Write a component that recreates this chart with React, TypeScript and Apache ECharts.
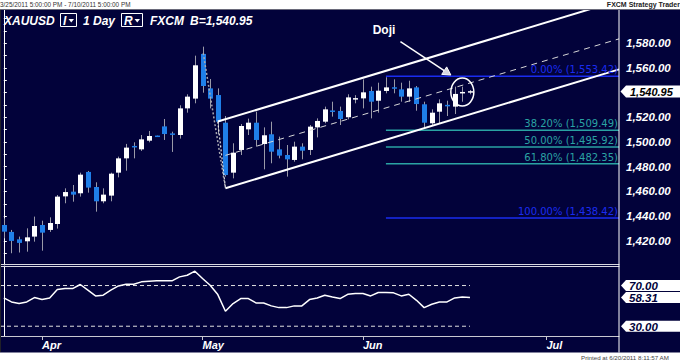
import React, { useEffect, useRef } from 'react';
import * as echarts from 'echarts';

// ---- price data (daily candles, Mar 25 .. Jun 20 2011) ----
const opens = [1432.8, 1427.2, 1421.2, 1419.6, 1423.4, 1432.8, 1428.8, 1433.6, 1456.0, 1459.8,
  1458.5, 1475.8, 1463.6, 1452.0, 1456.6, 1475.2, 1486.8, 1496.8, 1494.1, 1501.1,
  1504.9, 1512.7, 1506.8, 1505.7, 1527.3, 1535.2, 1571.4, 1543.5, 1538.1, 1515.7,
  1475.2, 1493.6, 1510.3, 1515.7, 1498.4, 1506.3, 1494.1, 1489.5, 1485.5, 1496.3,
  1493.6, 1511.9, 1516.5, 1525.4, 1525.2, 1520.1, 1534.4, 1535.4, 1541.4, 1533.5,
  1541.4, 1544.1, 1542.7, 1536.8, 1544.3, 1530.6, 1515.2, 1524.6, 1529.8, 1528.7,
  1539.8, 1540.3];
const closes = [1427.4, 1419.9, 1418.3, 1422.8, 1432.0, 1426.6, 1434.4, 1455.8, 1459.5, 1457.4,
  1473.6, 1463.1, 1452.0, 1457.4, 1474.4, 1486.8, 1495.5, 1495.7, 1502.2, 1504.9,
  1504.4, 1506.5, 1506.0, 1527.3, 1536.8, 1562.2, 1545.4, 1535.2, 1516.5, 1473.3,
  1491.4, 1513.0, 1515.7, 1501.7, 1505.5, 1492.2, 1489.0, 1486.0, 1496.3, 1493.0,
  1512.5, 1517.1, 1526.5, 1524.6, 1518.7, 1536.2, 1535.6, 1540.3, 1532.7, 1541.6,
  1544.3, 1543.5, 1536.8, 1543.5, 1530.8, 1515.7, 1523.8, 1531.4, 1529.3, 1539.0,
  1540.2, 1540.95];
const lows = [1422.0, 1409.9, 1410.5, 1411.2, 1419.3, 1412.0, 1427.2, 1429.9, 1450.4, 1451.7,
  1455.8, 1459.0, 1443.6, 1450.4, 1452.0, 1471.4, 1476.8, 1486.8, 1492.8, 1499.8,
  1504.2, 1501.7, 1492.0, 1502.8, 1523.8, 1531.4, 1540.0, 1527.3, 1506.3, 1472.0,
  1470.6, 1489.5, 1505.7, 1496.3, 1477.9, 1482.8, 1486.8, 1472.0, 1484.1, 1486.0,
  1489.5, 1503.8, 1515.2, 1520.6, 1513.8, 1518.4, 1531.4, 1527.3, 1519.2, 1523.8,
  1539.5, 1539.5, 1532.7, 1532.7, 1525.4, 1511.1, 1513.0, 1514.6, 1521.1, 1522.7,
  1532.7, 1538.7];
const highs = [1438.2, 1428.8, 1423.4, 1430.1, 1439.6, 1436.3, 1439.0, 1457.1, 1462.5, 1465.2,
  1475.2, 1476.6, 1467.4, 1462.5, 1475.2, 1488.2, 1498.5, 1499.8, 1505.7, 1509.0,
  1505.2, 1518.7, 1508.4, 1529.8, 1538.7, 1570.0, 1577.3, 1551.1, 1543.5, 1521.1,
  1499.0, 1514.6, 1519.0, 1524.6, 1511.9, 1516.5, 1504.4, 1497.6, 1500.3, 1499.0,
  1513.8, 1519.2, 1528.7, 1532.7, 1528.7, 1538.7, 1538.0, 1550.8, 1544.9, 1548.1,
  1552.5, 1550.8, 1548.1, 1549.7, 1545.4, 1532.7, 1526.5, 1534.6, 1533.5, 1544.9,
  1544.9, 1542.2];

// ---- RSI (14) ----
const rsiValues = [57.8, 53.9, 52.3, 53.9, 58.2, 56.2, 57.8, 66.0, 67.0, 67.0,
  71.0, 65.4, 59.8, 60.5, 65.4, 69.6, 71.3, 71.3, 73.6, 74.2,
  74.6, 74.6, 74.6, 78.5, 80.1, 84.1, 76.9, 70.3, 61.1, 44.7,
  52.3, 57.2, 57.2, 52.9, 52.9, 50.0, 48.3, 48.3, 50.0, 50.0,
  56.2, 57.8, 60.5, 58.8, 57.2, 61.4, 62.1, 62.1, 59.8, 63.1,
  63.1, 62.8, 59.8, 61.4, 55.5, 48.3, 51.6, 53.9, 53.9, 57.8,
  58.8, 58.31];
const rsiLevels = [70, 30];

// ---- axes ----
const monthTicks = [5, 26, 47, 71];
const monthLabels = ['Apr', 'May', 'Jun', 'Jul'];
// 1,540.00 is hidden behind the current-price marker in the original
const priceTicks = [1420, 1440, 1460, 1480, 1500, 1520, 1560, 1580];
const priceTickMarks = [1410, 1420, 1430, 1440, 1450, 1460, 1470, 1480, 1490, 1500, 1510,
  1520, 1530, 1540, 1550, 1560, 1570, 1580, 1590, 1600];

// ---- Fibonacci retracement ----
const fibPercents = ['0.00%', '38.20%', '50.00%', '61.80%', '100.00%'];
const fibPrices = [1553.42, 1509.49, 1495.92, 1482.35, 1438.42];
const fibColors = ['#1a2cf0', '#2aa3a3', '#2aa3a3', '#2aa3a3', '#1a2cf0'];
const fibStartIndex = 50;

// ---- drawing tools: channel (index, price) ----
const channelUpper = [[28, 1516.6], [81, 1615.7]];
const channelLower = [[29, 1462.6], [80.5, 1558.9]];
const channelMid = [[29, 1489.2], [80.5, 1583.6]];
const channelLeft = [[28, 1516.6], [29, 1462.6]];
const dropLine = [[26.1, 1572.0], [29, 1462.6]];

// ---- Doji annotation (index, price) ----
const dojiText = 'Doji';
const dojiTextAnchor = [49.75, 1591.2];
const dojiArrowTail = [51.9, 1581.3];
const dojiArrowTip = [58.5, 1554.3];
const dojiCircleCenter = [60, 1540.5];

const X_MIN = -0.5;
const X_MAX = 80.5;
const BG = '#02023a';
const UP = '#ffffff';
const DOWN = '#1f7fe9';
const WICK = '#9a9aa8';

const fmtPrice = (v: number) =>
  v.toLocaleString('en-US', { minimumFractionDigits: 2, maximumFractionDigits: 2 });

function buildOption(): any {
  const candleData = opens.map((o, i) => [i, o, closes[i], lows[i], highs[i]]);
  const lineS = (data: number[][], style: any, z = 4) => ({
    type: 'line', xAxisIndex: 0, yAxisIndex: 0, data, symbol: 'none', showSymbol: false,
    silent: true, z, lineStyle: style, clip: true,
  });
  const fibSeries = fibPrices.map((p, k) =>
    lineS([[fibStartIndex, p], [X_MAX, p]], { color: fibColors[k], width: 1.5 }, 2));
  return {
    animation: false,
    backgroundColor: BG,
    grid: [
      { left: 0, top: 10, width: 619, height: 254 },
      { left: 0, top: 266, width: 619, height: 70 },
    ],
    xAxis: [
      {
        type: 'value', gridIndex: 0, min: X_MIN, max: X_MAX,
        axisLine: { show: true, lineStyle: { color: '#d8d8e0', width: 1 } },
        axisTick: { show: false }, axisLabel: { show: false }, splitLine: { show: false },
      },
      {
        type: 'value', gridIndex: 1, min: X_MIN, max: X_MAX, position: 'bottom',
        axisLine: { show: true, lineStyle: { color: '#c8c8d0', width: 1 } },
        axisTick: { show: true, customValues: monthTicks, length: 4, lineStyle: { color: '#c8c8d0' } },
        axisLabel: {
          show: true, customValues: monthTicks, margin: 3, align: 'left',
          color: '#ffffff', fontSize: 11, fontWeight: 'bold', fontStyle: 'italic',
          fontFamily: 'Liberation Sans',
          formatter: (v: number) => monthLabels[monthTicks.indexOf(Math.round(v))] || '',
        },
        splitLine: { show: false },
      },
      {
        type: 'value', gridIndex: 1, min: X_MIN, max: X_MAX, position: 'top',
        axisLine: { show: true, lineStyle: { color: '#d8d8e0', width: 1 } },
        axisTick: { show: false }, axisLabel: { show: false }, splitLine: { show: false },
      },
    ],
    yAxis: [
      {
        type: 'value', gridIndex: 0, position: 'right', min: 1401.2, max: 1607,
        axisLine: { show: true, lineStyle: { color: '#ffffff', width: 1 } },
        axisTick: { show: true, customValues: priceTickMarks, length: 3, lineStyle: { color: '#ffffff' } },
        axisLabel: {
          show: true, customValues: priceTicks, margin: 7, color: '#ffffff',
          fontSize: 11.5, fontWeight: 'bold', fontStyle: 'italic', fontFamily: 'Liberation Sans',
          formatter: (v: number) => fmtPrice(v),
        },
        splitLine: { show: false },
      },
      {
        type: 'value', gridIndex: 1, position: 'right', min: 20.4, max: 89.2,
        axisLine: { show: true, lineStyle: { color: '#ffffff', width: 1 } },
        axisTick: { show: false }, axisLabel: { show: false }, splitLine: { show: false },
      },
    ],
    series: [
      ...fibSeries,
      {
        type: 'custom', xAxisIndex: 0, yAxisIndex: 0, data: candleData, z: 3, silent: true,
        encode: { x: 0, y: [1, 2, 3, 4] },
        renderItem: (_p: any, api: any) => {
          const x = api.value(0), o = api.value(1), c = api.value(2), l = api.value(3), h = api.value(4);
          const pO = api.coord([x, o]);
          const pC = api.coord([x, c]);
          const pL = api.coord([x, l]);
          const pH = api.coord([x, h]);
          const up = c >= o;
          const xc = Math.round(pO[0]) + 0.5;
          const top = Math.min(pO[1], pC[1]);
          let hgt = Math.abs(pO[1] - pC[1]);
          let y0 = top;
          if (hgt < 1.5) { y0 = top - (1.5 - hgt) / 2; hgt = 1.5; }
          return {
            type: 'group',
            children: [
              { type: 'line', shape: { x1: xc, y1: pH[1], x2: xc, y2: pL[1] }, style: { stroke: WICK, lineWidth: 1 } },
              { type: 'rect', shape: { x: xc - 2.5, y: y0, width: 5, height: hgt }, style: { fill: up ? UP : DOWN } },
            ],
          };
        },
      },
      lineS(dropLine, { color: '#a8a8b0', width: 1.5, type: [2, 2] }),
      lineS(channelLeft, { color: '#e8e8e8', width: 1.2, type: [2, 2] }),
      lineS(channelMid, { color: '#d8d8d8', width: 1, type: [6, 5] }),
      lineS(channelUpper, { color: '#ffffff', width: 2 }),
      lineS(channelLower, { color: '#ffffff', width: 2 }),
      {
        type: 'line', xAxisIndex: 1, yAxisIndex: 1, data: rsiValues.map((v, i) => [i, v]),
        symbol: 'none', showSymbol: false, silent: true, z: 4,
        lineStyle: { color: '#ffffff', width: 1.5 },
      },
      ...rsiLevels.map((lv) => ({
        type: 'line', xAxisIndex: 1, yAxisIndex: 1, data: [[X_MIN, lv], [rsiValues.length - 1, lv]],
        symbol: 'none', showSymbol: false, silent: true, z: 3,
        lineStyle: { color: '#e0e0e0', width: 1, type: [4, 3] },
      })),
    ],
  };
}

function buildGraphic(chart: any): any[] {
  const px = (pt: number[]) => chart.convertToPixel({ xAxisIndex: 0, yAxisIndex: 0 }, pt) as number[];
  const ry = (v: number) => (chart.convertToPixel({ xAxisIndex: 1, yAxisIndex: 1 }, [0, v]) as number[])[1];
  const g: any[] = [];
  const Z = 100;
  const axisX = px([X_MAX, 1500])[0];

  // white header / footer bands
  g.push({ type: 'rect', z: Z, shape: { x: 0, y: 0, width: 680, height: 9 }, style: { fill: '#ffffff' } });
  g.push({ type: 'line', z: Z, shape: { x1: 0, y1: 9.5, x2: 680, y2: 9.5 }, style: { stroke: '#6a6a7a', lineWidth: 1 } });
  g.push({ type: 'rect', z: Z, shape: { x: 0, y: 352.5, width: 680, height: 9 }, style: { fill: '#ffffff' } });
  g.push({ type: 'line', z: Z, shape: { x1: 0.5, y1: 10, x2: 0.5, y2: 352 }, style: { stroke: '#202028', lineWidth: 1 } });
  g.push({ type: 'line', z: Z, shape: { x1: axisX, y1: 10, x2: axisX, y2: 352.5 }, style: { stroke: '#ffffff', lineWidth: 1 } });
  g.push({ type: 'text', z: Z, x: 0, y: 4.5, style: { text: '3/25/2011 5:00:00 PM - 7/10/2011 5:00:00 PM', fill: '#333333', fontSize: 6.4, fontFamily: 'Liberation Sans', verticalAlign: 'middle' } });
  g.push({ type: 'text', z: Z, x: 680, y: 4.5, style: { text: 'FXCM Strategy Trader', fill: '#222222', fontSize: 7, fontWeight: 'bold', fontFamily: 'Liberation Sans', align: 'right', verticalAlign: 'middle' } });
  g.push({ type: 'text', z: Z, x: 581, y: 357, style: { text: 'Printed at 6/20/2011 8:11:57 AM', fill: '#444444', fontSize: 6.2, fontFamily: 'Liberation Sans', verticalAlign: 'middle' } });

  // title row
  const tStyle = { fill: '#ffffff', fontSize: 12, fontWeight: 'bold', fontStyle: 'italic', fontFamily: 'Liberation Sans', verticalAlign: 'middle' };
  const lastClose = closes[closes.length - 1];
  g.push({ type: 'text', z: Z, x: 4, y: 20.5, style: { ...tStyle, text: 'XAUUSD' } });
  g.push({ type: 'rect', z: Z, shape: { x: 60.5, y: 13.5, width: 16, height: 13 }, style: { fill: 'none', stroke: '#ffffff', lineWidth: 1 } });
  g.push({ type: 'text', z: Z, x: 63, y: 20.5, style: { ...tStyle, text: 'I' } });
  g.push({ type: 'polygon', z: Z, shape: { points: [[68.5, 19], [74, 19], [71.25, 22.5]] }, style: { fill: '#ffffff' } });
  g.push({ type: 'text', z: Z, x: 83, y: 20.5, style: { ...tStyle, text: '1 Day' } });
  g.push({ type: 'rect', z: Z, shape: { x: 121.5, y: 13.5, width: 21, height: 13 }, style: { fill: 'none', stroke: '#ffffff', lineWidth: 1 } });
  g.push({ type: 'text', z: Z, x: 124, y: 20.5, style: { ...tStyle, text: 'R' } });
  g.push({ type: 'polygon', z: Z, shape: { points: [[134.5, 19], [140, 19], [137.25, 22.5]] }, style: { fill: '#ffffff' } });
  g.push({ type: 'text', z: Z, x: 150, y: 20.5, style: { ...tStyle, text: 'FXCM' } });
  g.push({ type: 'text', z: Z, x: 190, y: 20.5, style: { ...tStyle, text: 'B=' + fmtPrice(lastClose) } });

  // fib labels
  fibPrices.forEach((p, k) => {
    const y = px([X_MAX, p])[1];
    g.push({ type: 'text', z: 50, x: axisX - 1, y: y - 1.5, style: { text: `${fibPercents[k]} (${fmtPrice(p)})`, fill: fibColors[k], fontSize: 10, fontFamily: 'DejaVu Sans', align: 'right', verticalAlign: 'bottom' } });
  });

  // current price marker
  const yp = px([0, lastClose])[1];
  g.push({ type: 'polygon', z: Z, shape: { points: [[axisX + 1.5, yp], [axisX + 7, yp - 6], [680, yp - 6], [680, yp + 6], [axisX + 7, yp + 6]] }, style: { fill: '#ffffff' } });
  g.push({ type: 'text', z: Z + 1, x: 630, y: yp + 0.5, style: { text: fmtPrice(lastClose), fill: '#000000', fontSize: 11, fontStyle: 'italic', fontWeight: 'bold', fontFamily: 'Liberation Sans', verticalAlign: 'middle' } });

  // RSI labels
  const rsiLast = rsiValues[rsiValues.length - 1];
  [...rsiLevels, rsiLast].forEach((v) => {
    const y = ry(v);
    g.push({ type: 'polygon', z: Z, shape: { points: [[axisX + 2, y], [axisX + 7, y - 5.5], [680, y - 5.5], [680, y + 5.5], [axisX + 7, y + 5.5]] }, style: { fill: '#ffffff' } });
    g.push({ type: 'text', z: Z + 1, x: 629, y: y + 0.5, style: { text: v.toFixed(2), fill: '#02023a', fontSize: 11.5, fontStyle: 'italic', fontWeight: 'bold', fontFamily: 'Liberation Sans', verticalAlign: 'middle' } });
  });

  // Doji annotation
  const tp = px(dojiTextAnchor);
  g.push({ type: 'text', z: Z, x: tp[0], y: tp[1], style: { text: dojiText, fill: '#ffffff', fontSize: 12, fontWeight: 'bold', fontFamily: 'Liberation Sans', align: 'center', verticalAlign: 'middle' } });
  const a0 = px(dojiArrowTail);
  const a1 = px(dojiArrowTip);
  const dx = a1[0] - a0[0], dy = a1[1] - a0[1];
  const len = Math.sqrt(dx * dx + dy * dy);
  const ux = dx / len, uy = dy / len;
  const bx = a1[0] - ux * 8, by = a1[1] - uy * 8;
  g.push({ type: 'line', z: Z, shape: { x1: a0[0], y1: a0[1], x2: bx, y2: by }, style: { stroke: '#ffffff', lineWidth: 1.5 } });
  g.push({ type: 'polygon', z: Z, shape: { points: [[a1[0], a1[1]], [bx - uy * 4.5, by + ux * 4.5], [bx + uy * 4.5, by - ux * 4.5]] }, style: { fill: '#d8d8e0', stroke: '#ffffff', lineWidth: 1 } });
  const cc = px(dojiCircleCenter);
  g.push({ type: 'ellipse', z: Z, shape: { cx: cc[0], cy: cc[1], rx: 11.5, ry: 14 }, style: { fill: 'none', stroke: '#ffffff', lineWidth: 1.5 } });

  return g;
}

export default function App() {
  const ref = useRef<HTMLDivElement>(null);
  useEffect(() => {
    document.body.style.margin = '0';
    const chart = echarts.init(ref.current as HTMLDivElement, null, { renderer: 'svg' });
    chart.setOption(buildOption());
    chart.setOption({ graphic: { elements: buildGraphic(chart) } });
    return () => chart.dispose();
  }, []);
  return <div ref={ref} style={{ position: 'absolute', left: 0, top: 0, width: 680, height: 361 }} />;
}
